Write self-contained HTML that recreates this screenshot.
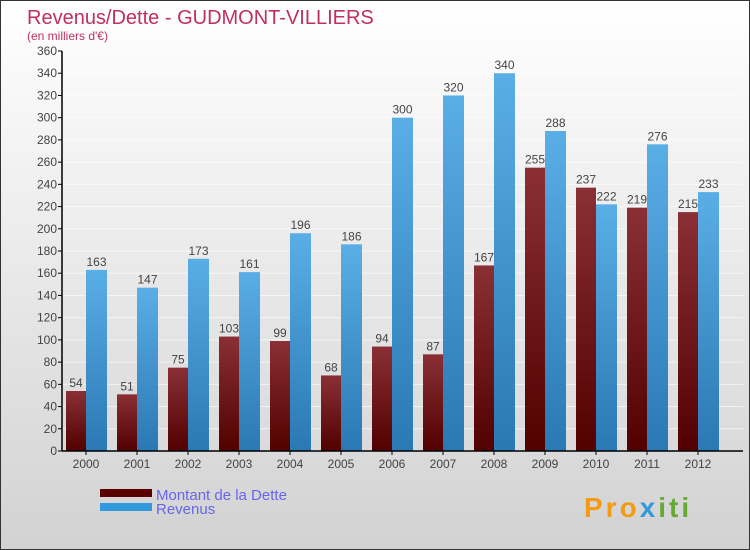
<!DOCTYPE html>
<html><head><meta charset="utf-8"><style>
body{margin:0}
#c{position:relative;width:748px;height:548px;border:1px solid #333;background:linear-gradient(#ffffff,#d2d2d2);font-family:"Liberation Sans",sans-serif;overflow:hidden}
</style></head><body>
<div id="c">
<svg width="748" height="548" id="s">
<defs>
<linearGradient id="gd" x1="0" y1="0" x2="0" y2="1"><stop offset="0" stop-color="#8a3035"/><stop offset="1" stop-color="#520000"/></linearGradient>
<linearGradient id="gr" x1="0" y1="0" x2="0" y2="1"><stop offset="0" stop-color="#5aaee6"/><stop offset="1" stop-color="#2a78b4"/></linearGradient>
</defs>
<text x="26" y="23" font-size="20" fill="#c0305f">Revenus/Dette - GUDMONT-VILLIERS</text>
<text x="26" y="39" font-size="12" fill="#c0305f">(en milliers d'€)</text>
<g id="grid"></g><g id="bars"></g><g id="axes"></g>
<rect x="99" y="488" width="52" height="8" fill="#5a0000"/>
<rect x="99" y="502" width="52" height="8" fill="#3399dd"/>
<text x="155" y="499" font-size="15" fill="#6666ee">Montant de la Dette</text>
<text x="155" y="513" font-size="15" fill="#6666ee">Revenus</text>
<text x="583" y="516" font-size="28" font-weight="bold" letter-spacing="3" fill="#f39c12">Pro<tspan fill="#3399dd">x</tspan><tspan fill="#66aa33">iti</tspan></text>
</svg></div>
<script>
const years=["2000","2001","2002","2003","2004","2005","2006","2007","2008","2009","2010","2011","2012"];
const dette=[54,51,75,103,99,68,94,87,167,255,237,219,215];
const revenus=[163,147,173,161,196,186,300,320,340,288,222,276,233];
const yTicks=[0,20,40,60,80,100,120,140,160,180,200,220,240,260,280,300,320,340,360];
const NS="http://www.w3.org/2000/svg";
const y0=450,yTop=50,ymax=360,x0=61,xEnd=742;
function Y(v){return y0-(y0-yTop)*v/ymax;}
function X(i){return 85+51*i;}
function mk(t,a,p){const e=document.createElementNS(NS,t);for(const k in a)e.setAttribute(k,a[k]);document.getElementById(p).appendChild(e);return e;}
yTicks.forEach(v=>{
 const g=mk("line",{x1:x0,x2:xEnd,y1:Y(v),y2:Y(v),stroke:"#fff","stroke-width":1,"stroke-opacity":0.6},"grid");
 
 
 const t=mk("line",{x1:x0-4,x2:x0,y1:Y(v),y2:Y(v),stroke:"#000"},"axes");
 
 
 const l=mk("text",{x:x0-5,y:Y(v)+4,"font-size":12,fill:"#444","text-anchor":"end"},"axes");
 l.textContent=v;
 
 
});
years.forEach((yr,i)=>{
 const c=X(i);
 const d=mk("rect",{x:c-20,y:Y(dette[i]),width:20,height:y0-Y(dette[i]),fill:"url(#gd)"},"bars");
 
 
 const r=mk("rect",{x:c,y:Y(revenus[i]),width:21,height:y0-Y(revenus[i]),fill:"url(#gr)"},"bars");
 
 
 const dl=mk("text",{x:c-10,y:Y(dette[i])-4,"font-size":12,fill:"#444","text-anchor":"middle"},"bars");
 dl.textContent=dette[i];
 
 
 const rl=mk("text",{x:c+10.5,y:Y(revenus[i])-4,"font-size":12,fill:"#444","text-anchor":"middle"},"bars");
 rl.textContent=revenus[i];
 
 
 const tk=mk("line",{x1:c,x2:c,y1:y0,y2:y0+4,stroke:"#000"},"axes");
 
 
 const xl=mk("text",{x:c,y:y0+17,"font-size":12,fill:"#444","text-anchor":"middle"},"axes");
 xl.textContent=yr;
 
 
});
const ya=mk("line",{x1:x0,x2:x0,y1:yTop,y2:y0,stroke:"#000","stroke-width":1.5},"axes");


const xa=mk("line",{x1:x0,x2:xEnd,y1:y0,y2:y0,stroke:"#000","stroke-width":1.5},"axes");


</script>
</body></html>
